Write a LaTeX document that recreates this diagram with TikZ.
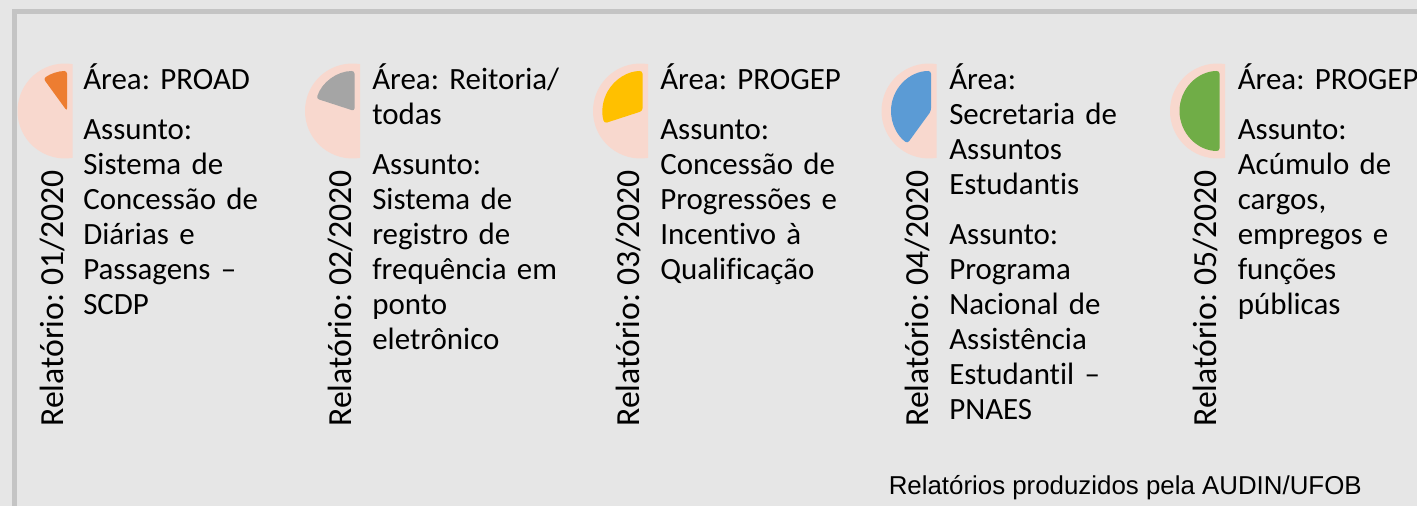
\documentclass[tikz,border=0pt]{standalone}
\usepackage{fontspec}
\setmainfont{Carlito}[Ligatures={NoCommon,NoContextual},Contextuals=NoAlternate]
\newfontfamily\arialf{Liberation Sans}
\frenchspacing
\definecolor{bgc}{RGB}{230,230,230}
\definecolor{framec}{RGB}{196,196,196}
\definecolor{peach}{RGB}{248,216,206}
\definecolor{pieorange}{HTML}{ED7D31}
\definecolor{piegray}{HTML}{A5A5A5}
\definecolor{pieyellow}{HTML}{FFC000}
\definecolor{pieblue}{HTML}{5B9BD5}
\definecolor{piegreen}{HTML}{70AD47}
\tikzset{
  txt/.style={anchor=base west, inner sep=0pt, text width=165pt, align=left,
    font=\frenchspacing\fontsize{23.2}{26.25}\selectfont},
  rot/.style={rotate=90, anchor=base east, inner sep=0pt,
    font=\fontsize{25.3}{28}\selectfont},
  foot/.style={anchor=base east, inner sep=0pt,
    font=\arialf\fontsize{19.4}{23}\selectfont},
  outerpie/.style={fill=peach},
  innerpie/.style={rounded corners=2pt}
}
\begin{document}
\begin{tikzpicture}[x=0.75pt,y=0.75pt]
\useasboundingbox (0,0) rectangle (1417,506);
\fill[bgc] (0,0) rectangle (1417,506);
\begin{scope}
  \clip (0,0) rectangle (1417,506);
  \draw[framec, line width=3.75pt] (14.5,-20) rectangle (1450,494.5);
\end{scope}
\foreach \cx/\k/\col in {65/1/pieorange, 352.5/2/piegray, 640.5/3/pieyellow, 929/4/pieblue, 1217.5/5/piegreen}{
  \fill[outerpie] (\cx,395) ++(80.9:47.5) arc[start angle=80.9, end angle=279.1, radius=47.5] -- cycle;
  \fill[innerpie, fill=\col] (\cx+2,395) -- ++(90:40) arc[start angle=90, end angle={90+36*\k}, radius=40] -- cycle;
}
\node[rot] (r1) at (63.5,336) {Relatório: 01/2020};
\node[rot] (r2) at (351.5,336) {Relatório: 02/2020};
\node[rot] (r3) at (639.5,336) {Relatório: 03/2020};
\node[rot] (r4) at (928,336) {Relatório: 04/2020};
\node[rot] (r5) at (1216.5,336) {Relatório: 05/2020};
\node[txt] (t1) at (83,416) {Área: PROAD\\[11pt]Assunto:\\Sistema de\\Concessão de\\Diárias e\\Passagens –\\SCDP};
\node[txt] (t2) at (372,416) {Área: Reitoria/\\todas\\[11pt]Assunto:\\Sistema de\\registro de\\frequência em\\ponto\\eletrônico};
\node[txt] (t3) at (660,416) {Área: PROGEP\\[11pt]Assunto:\\Concessão de\\Progressões e\\Incentivo à\\Qualificação};
\node[txt] (t4) at (949,416) {Área:\\Secretaria de\\Assuntos\\Estudantis\\[11pt]Assunto:\\Programa\\Nacional de\\Assistência\\Estudantil –\\PNAES};
\node[txt] (t5) at (1237.5,416) {Área: PROGEP\\[11pt]Assunto:\\Acúmulo de\\cargos,\\empregos e\\funções\\públicas};
\node[foot] (ft) at (1362,11) {Relatórios produzidos pela AUDIN/UFOB};
\end{tikzpicture}
\end{document}
